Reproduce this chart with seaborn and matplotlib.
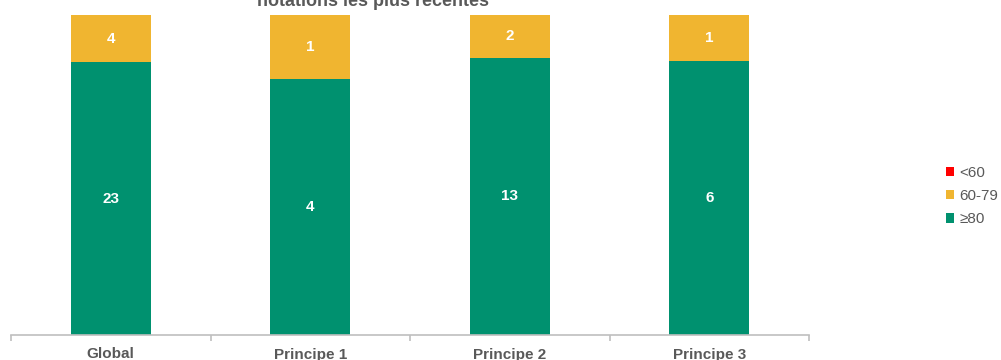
import numpy as np
import pandas as pd
import matplotlib
matplotlib.use("Agg")
import matplotlib.pyplot as plt
import seaborn as sns
from matplotlib.patches import Patch
from matplotlib.ticker import FixedLocator

# -----------------------------
# Données
# -----------------------------
categories = ["Global", "Principe 1", "Principe 2", "Principe 3"]
n_low = [0, 0, 0, 0]      # <60
n_mid = [4, 1, 2, 1]      # 60-79
n_high = [23, 4, 13, 6]   # ≥80
bands = ["<60", "60-79", "≥80"]
colors = {"<60": "#FF0000", "60-79": "#F0B530", "≥80": "#00916F"}

df = pd.DataFrame({"cat": categories, "low": n_low, "mid": n_mid, "high": n_high})
df["total"] = df["low"] + df["mid"] + df["high"]
df["p_high"] = df["high"] / df["total"]
df["p_mid"] = (df["high"] + df["mid"]) / df["total"]
df["p_low"] = (df["high"] + df["mid"] + df["low"]) / df["total"]

sns.set_style("white")
plt.rcParams["font.family"] = ["Liberation Sans", "DejaVu Sans"]
grey = "#595959"

fig = plt.figure(figsize=(10.01, 3.6), dpi=100)
ax = fig.add_axes([11 / 1001, 25 / 360, 798 / 1001, 320 / 360])

# barres empilées à 100 % (couches cumulées)
for col, band in [("p_low", "<60"), ("p_mid", "60-79"), ("p_high", "≥80")]:
    sns.barplot(data=df, x="cat", y=col, order=categories, color=colors[band],
                width=0.4, saturation=1, ax=ax, linewidth=0)

# étiquettes des segments
for i, row in df.iterrows():
    if row["high"] > 0:
        ax.text(i, row["p_high"] / 2, f"{row['high']}", ha="center", va="center",
                color="white", fontsize=11, fontweight="bold")
    if row["mid"] > 0:
        ax.text(i, (row["p_high"] + row["p_mid"]) / 2, f"{row['mid']}", ha="center",
                va="center", color="white", fontsize=11, fontweight="bold")
    if row["low"] > 0:
        ax.text(i, (row["p_mid"] + row["p_low"]) / 2, f"{row['low']}", ha="center",
                va="center", color="white", fontsize=11, fontweight="bold")

ax.set_xlim(-0.5, 3.5)
ax.set_ylim(0, 1)
ax.set_xlabel("")
ax.set_ylabel("")
ax.set_yticks([])
for s in ["top", "right", "left"]:
    ax.spines[s].set_visible(False)
ax.spines["bottom"].set_color("#BFBFBF")
ax.spines["bottom"].set_linewidth(1.2)

ax.xaxis.set_minor_locator(FixedLocator(np.arange(-0.5, 4, 1)))
ax.tick_params(axis="x", which="major", bottom=True, length=0, pad=9,
               labelsize=11, labelcolor=grey)
ax.tick_params(axis="x", which="minor", bottom=True, length=4, width=1.2,
               color="#BFBFBF", direction="out")
for lab in ax.get_xticklabels():
    lab.set_fontweight("bold")

# titre (coupé en haut, comme dans l'original)
fig.text(373 / 1001, 1 - 6 / 360, "notations les plus récentes", ha="center",
         va="baseline", fontsize=13, fontweight="bold", color=grey)

# légende
handles = [Patch(facecolor=colors[b], edgecolor="none", label=b) for b in bands]
fig.legend(handles=handles, loc="center left", bbox_to_anchor=(946 / 1001, 1 - 196 / 360),
           frameon=False, fontsize=11, handlelength=0.55, handleheight=0.55,
           handletextpad=0.35, labelspacing=0.62, borderpad=0, borderaxespad=0,
           labelcolor=grey)

fig.savefig("out.png", dpi=100)
